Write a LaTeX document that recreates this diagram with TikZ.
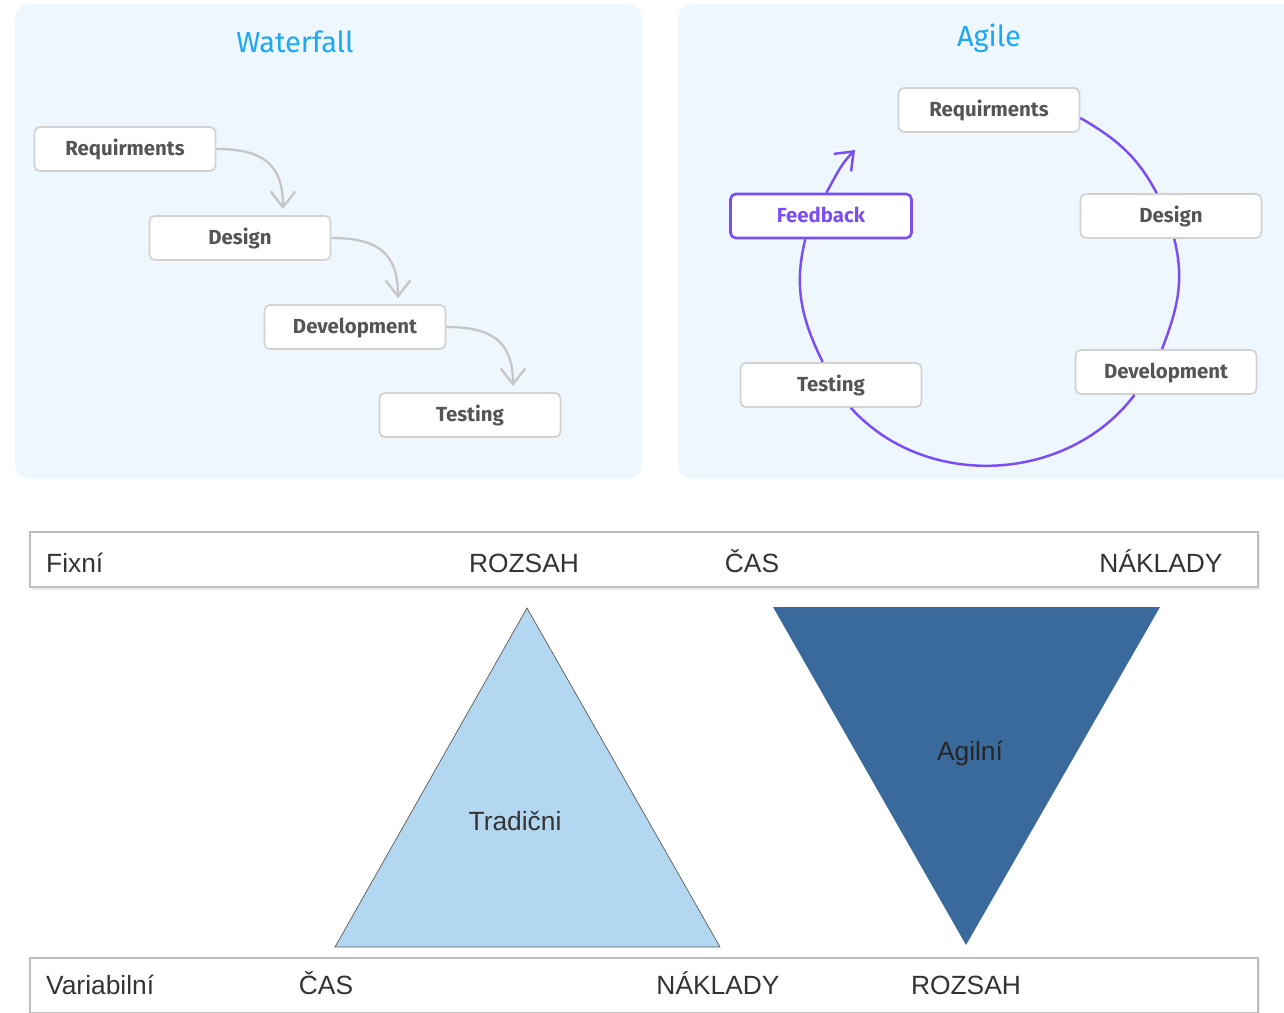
\documentclass[tikz,border=0pt]{standalone}
\usepackage{fontspec}
\setmainfont{Liberation Sans}
\setsansfont{Fira Sans}
\usetikzlibrary{arrows.meta,calc,shadows}

\definecolor{panelbg}{HTML}{EEF6FE}
\definecolor{titleblue}{HTML}{1CA8F4}
\definecolor{boxline}{HTML}{D2D2D2}
\definecolor{boxtext}{HTML}{555555}
\definecolor{flowgray}{HTML}{C6C6C6}
\definecolor{agilepurple}{HTML}{7A4DF5}
\definecolor{lightblue}{HTML}{B3D7F0}
\definecolor{darkblue}{HTML}{396A9B}
\definecolor{bandline}{HTML}{BDBDBD}
\definecolor{textgray}{HTML}{333333}

\begin{document}
\begin{tikzpicture}[x=0.02cm,y=0.02cm,
  phase/.style={draw=boxline,line width=1pt,fill=white,rounded corners=3pt,
    minimum width=3.62cm,minimum height=0.88cm,text height=1.6ex,text depth=0.3ex,
    font=\sffamily\bfseries\fontsize{11.6}{13}\selectfont,text=boxtext},
  flow/.style={draw=flowgray,line width=1.3pt,looseness=1.3,
    -{Straight Barb[length=9pt,width=14pt]}},
  cyclearc/.style={draw=agilepurple,line width=1.4pt},
  band/.style={draw=bandline,line width=0.8pt,fill=white,
    minimum width=24.56cm,minimum height=1.1cm,
    drop shadow={opacity=0.15,shadow xshift=1pt,shadow yshift=-1.5pt}},
  lbl/.style={font=\fontsize{15}{18}\selectfont,text=textgray,anchor=base},
  title/.style={font=\sffamily\fontsize{16.5}{19}\selectfont,text=titleblue}]

\useasboundingbox (0,0) rectangle (1284,-1012);

% waterfall
\fill[panelbg,rounded corners=0.3cm] (15,-4) rectangle (642,-479);
\node[title] (wftitle) at (295,-42) {Waterfall};
\node[phase] (wreq) at (125,-149) {Requirments};
\node[phase] (wdes) at (240,-238) {Design};
\node[phase] (wdev) at (355,-327) {Development};
\node[phase] (wtest) at (470,-415) {Testing};
\draw[flow] (wreq.east) to[out=0,in=90] ($(wdes.north)+(43,6)$);
\draw[flow] (wdes.east) to[out=0,in=90] ($(wdev.north)+(43,6)$);
\draw[flow] (wdev.east) to[out=0,in=90] ($(wtest.north)+(43,6)$);

% agile
\fill[panelbg,rounded corners=0.3cm] (678,-4) rectangle (1300,-479);
\node[title] (agtitle) at (989,-38) {Agile};
\node[phase] (areq) at (989,-110) {Requirments};
\node[phase] (ades) at (1171,-216) {Design};
\node[phase] (adev) at (1166,-372) {Development};
\node[phase] (atest) at (831,-385) {Testing};
\node[phase,draw=agilepurple,line width=1.5pt,text=agilepurple] (afeed) at (821,-216) {Feedback};
\coordinate (fbtip) at (855,-150);
\draw[cyclearc] (areq.-5) to[out=-30,in=118] (ades.122);
\draw[cyclearc] (ades.-82) to[out=-76,in=69] (adev.100);
\draw[cyclearc] (adev.216) to[out=-127,in=-48] (atest.-49);
\draw[cyclearc] (atest.110) to[out=116,in=-104] (afeed.236);
\draw[cyclearc,-{Straight Barb[length=9pt,width=14pt]}] (afeed.77) to[out=61,in=225] (fbtip);

% triangles
\node[band] (fixband) at (644,-559.5) {};
\node[band] (varband) at (644,-985.5) {};
\node[lbl,anchor=base west] (fixni) at (40,-572) {Fixní};
\node[lbl] (fscope) at (524,-572) {ROZSAH};
\node[lbl] (ftime) at (752,-572) {ČAS};
\node[lbl] (fcost) at (1161,-572) {NÁKLADY};
\node[lbl,anchor=base west] (varia) at (40,-994) {Variabilní};
\node[lbl] (vtime) at (326,-994) {ČAS};
\node[lbl] (vcost) at (718,-994) {NÁKLADY};
\node[lbl] (vscope) at (966,-994) {ROZSAH};

\draw[fill=lightblue,draw=gray!70!black,line width=0.4pt] (527,-608) -- (335,-947) -- (720,-947) -- cycle;
\node[lbl] (trad) at (515,-830) {Tradični};
\fill[darkblue] (773,-607) -- (1160,-607) -- (966,-945) -- cycle;
\node[lbl,text=black!85] (agil) at (970,-760) {Agilní};
\end{tikzpicture}
\end{document}
